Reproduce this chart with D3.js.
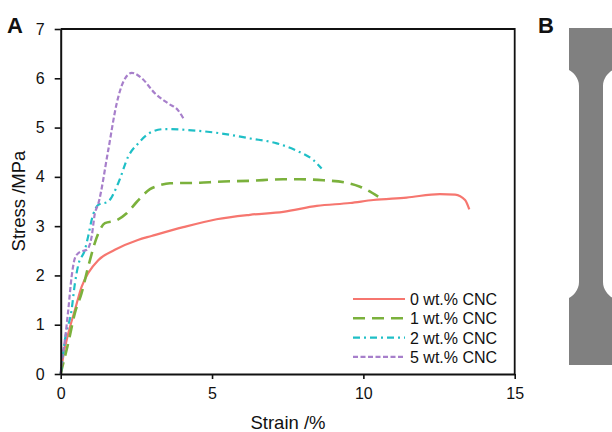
<!DOCTYPE html>
<html>
<head>
<meta charset="utf-8">
<script src="https://cdn.jsdelivr.net/npm/d3@7"></script>
<style>
    body { margin: 0; background: white; }
    text { font-family: Arial, "Liberation Sans", sans-serif; fill: #111; }
</style>
</head>
<body>
<div id="chart"></div>
<script>
    // strain (%) / stress (MPa)
    var strain_0 = [0, 0.03, 0.31, 0.47, 0.69, 0.91, 1.24, 1.79, 2.55, 3.0, 4.05, 5.15, 6.25, 7.35, 8.46, 9.56, 10.33, 11.43, 12.53, 13.03, 13.36, 13.5];
    var stress_0 = [0, 0.15, 0.96, 1.30, 1.77, 2.05, 2.31, 2.52, 2.72, 2.80, 2.98, 3.14, 3.23, 3.29, 3.41, 3.47, 3.53, 3.58, 3.65, 3.64, 3.53, 3.34];

    var strain_1 = [0, 0.03, 0.25, 0.47, 0.69, 0.91, 1.24, 1.46, 1.85, 2.18, 2.51, 2.95, 3.28, 3.61, 4.6, 5.15, 6.25, 7.35, 7.9, 8.68, 9.45, 9.89, 10.49];
    var stress_1 = [0, 0.08, 0.63, 1.24, 1.64, 2.18, 2.85, 3.06, 3.12, 3.26, 3.49, 3.75, 3.83, 3.87, 3.88, 3.90, 3.92, 3.95, 3.95, 3.93, 3.88, 3.80, 3.60];

    var strain_2 = [0, 0.03, 0.14, 0.36, 0.47, 0.58, 0.80, 0.91, 1.02, 1.24, 1.57, 1.90, 2.23, 2.56, 3.0, 3.45, 4.22, 5.32, 6.25, 7.14, 7.8, 8.35, 8.62];
    var stress_2 = [0, 0.15, 0.69, 1.30, 1.84, 2.21, 2.52, 2.80, 3.12, 3.43, 3.50, 3.87, 4.41, 4.68, 4.91, 4.97, 4.95, 4.88, 4.78, 4.68, 4.53, 4.34, 4.17];

    var strain_5 = [0, 0.03, 0.14, 0.25, 0.36, 0.47, 0.64, 0.86, 1.02, 1.13, 1.24, 1.57, 1.85, 2.07, 2.35, 2.68, 3.12, 3.55, 3.88, 4.05];
    var stress_5 = [0, 0.22, 0.69, 1.30, 1.97, 2.35, 2.48, 2.52, 2.78, 3.26, 3.45, 4.54, 5.49, 5.93, 6.11, 6.0, 5.69, 5.49, 5.35, 5.19];

    var series_names = ["0 wt.% CNC", "1 wt.% CNC", "2 wt.% CNC", "5 wt.% CNC"];
    var series_colors = ["#f6766f", "#7bb13c", "#1fbfc6", "#a77fcb"];
    var series_dashes = [null, "12,7", "7,4,2,4", "5,2.5"];
    var series_widths = [2.2, 2.6, 2.2, 2.2];

    var x_ticks = [0, 5, 10, 15];
    var y_ticks = [0, 1, 2, 3, 4, 5, 6, 7];

    var series = [
        d3.zip(strain_0, stress_0),
        d3.zip(strain_1, stress_1),
        d3.zip(strain_2, stress_2),
        d3.zip(strain_5, stress_5)
    ];

    var width = 612, height = 432;
    var svg = d3.select("#chart").append("svg")
        .attr("width", width)
        .attr("height", height);

    var x = d3.scaleLinear().domain([0, 15]).range([60.7, 514.7]);
    var y = d3.scaleLinear().domain([0, 7]).range([374, 29]);

    // frame (top + right)
    svg.append("path")
        .attr("d", "M" + x(0) + "," + y(7) + "H" + x(15) + "V" + y(0))
        .attr("fill", "none")
        .attr("stroke", "#111")
        .attr("stroke-width", 1.8);

    // curves
    var line = d3.line()
        .x(function(d){ return x(d[0]); })
        .y(function(d){ return y(d[1]); })
        .curve(d3.curveMonotoneX);

    series.forEach(function(s, i){
        svg.append("path")
            .datum(s)
            .attr("d", line)
            .attr("fill", "none")
            .attr("stroke", series_colors[i])
            .attr("stroke-width", series_widths[i])
            .attr("stroke-dasharray", series_dashes[i]);
    });

    // axes
    var xAxis = svg.append("g")
        .attr("transform", "translate(0," + y(0) + ")")
        .call(d3.axisBottom(x).tickValues(x_ticks).tickFormat(d3.format("d"))
              .tickSize(5).tickSizeOuter(0).tickPadding(9));
    var yAxis = svg.append("g")
        .attr("transform", "translate(" + x(0) + ",0)")
        .call(d3.axisLeft(y).tickValues(y_ticks).tickFormat(d3.format("d"))
              .tickSize(6).tickSizeOuter(0).tickPadding(10));

    [xAxis, yAxis].forEach(function(a){
        a.select(".domain").attr("stroke", "#111").attr("stroke-width", 2);
        a.selectAll(".tick line").attr("stroke", "#111").attr("stroke-width", 1.6);
        a.selectAll(".tick text").attr("font-size", 16).attr("font-family", "Arial, 'Liberation Sans', sans-serif").attr("fill", "#111");
    });

    // axis titles
    svg.append("text")
        .attr("x", 288).attr("y", 429)
        .attr("text-anchor", "middle")
        .attr("font-size", 18.5)
        .text("Strain /%");
    svg.append("text")
        .attr("transform", "translate(25,201) rotate(-90)")
        .attr("text-anchor", "middle")
        .attr("font-size", 18.5)
        .text("Stress /MPa");

    // legend
    var legend = svg.append("g").attr("transform", "translate(353,299)");
    series_names.forEach(function(name, i){
        var row = legend.append("g").attr("transform", "translate(0," + (i * 19.3) + ")");
        row.append("line")
            .attr("x1", 0).attr("x2", 52)
            .attr("stroke", series_colors[i])
            .attr("stroke-width", series_widths[i])
            .attr("stroke-dasharray", series_dashes[i]);
        row.append("text")
            .attr("x", 57).attr("y", 6)
            .attr("font-size", 16)
            .text(name);
    });

    // panel letters
    svg.append("text").attr("x", 7).attr("y", 33)
        .attr("font-size", 22).attr("font-weight", "bold").text("A");
    svg.append("text").attr("x", 538).attr("y", 33)
        .attr("font-size", 22).attr("font-weight", "bold").text("B");

    // panel B: dog-bone specimen
    var bone_cx = 591, bone_grip = 22, bone_neck = 12;
    var bone_top = 28, bone_grip_end = 70, bone_neck_start = 86,
        bone_neck_end = 282, bone_grip_start = 298, bone_bottom = 365;
    var p = d3.path();
    p.moveTo(bone_cx - bone_grip, bone_top);
    p.lineTo(bone_cx + bone_grip, bone_top);
    p.lineTo(bone_cx + bone_grip, bone_grip_end);
    p.bezierCurveTo(bone_cx + bone_neck + 6, bone_grip_end + 2, bone_cx + bone_neck, bone_grip_end + 8, bone_cx + bone_neck, bone_neck_start);
    p.lineTo(bone_cx + bone_neck, bone_neck_end);
    p.bezierCurveTo(bone_cx + bone_neck, bone_grip_start - 8, bone_cx + bone_neck + 6, bone_grip_start - 2, bone_cx + bone_grip, bone_grip_start);
    p.lineTo(bone_cx + bone_grip, bone_bottom);
    p.lineTo(bone_cx - bone_grip, bone_bottom);
    p.lineTo(bone_cx - bone_grip, bone_grip_start);
    p.bezierCurveTo(bone_cx - bone_neck - 6, bone_grip_start - 2, bone_cx - bone_neck, bone_grip_start - 8, bone_cx - bone_neck, bone_neck_end);
    p.lineTo(bone_cx - bone_neck, bone_neck_start);
    p.bezierCurveTo(bone_cx - bone_neck, bone_grip_end + 8, bone_cx - bone_neck - 6, bone_grip_end + 2, bone_cx - bone_grip, bone_grip_end);
    p.closePath();
    svg.append("path").attr("d", p.toString()).attr("fill", "#808080");
</script>
</body>
</html>
